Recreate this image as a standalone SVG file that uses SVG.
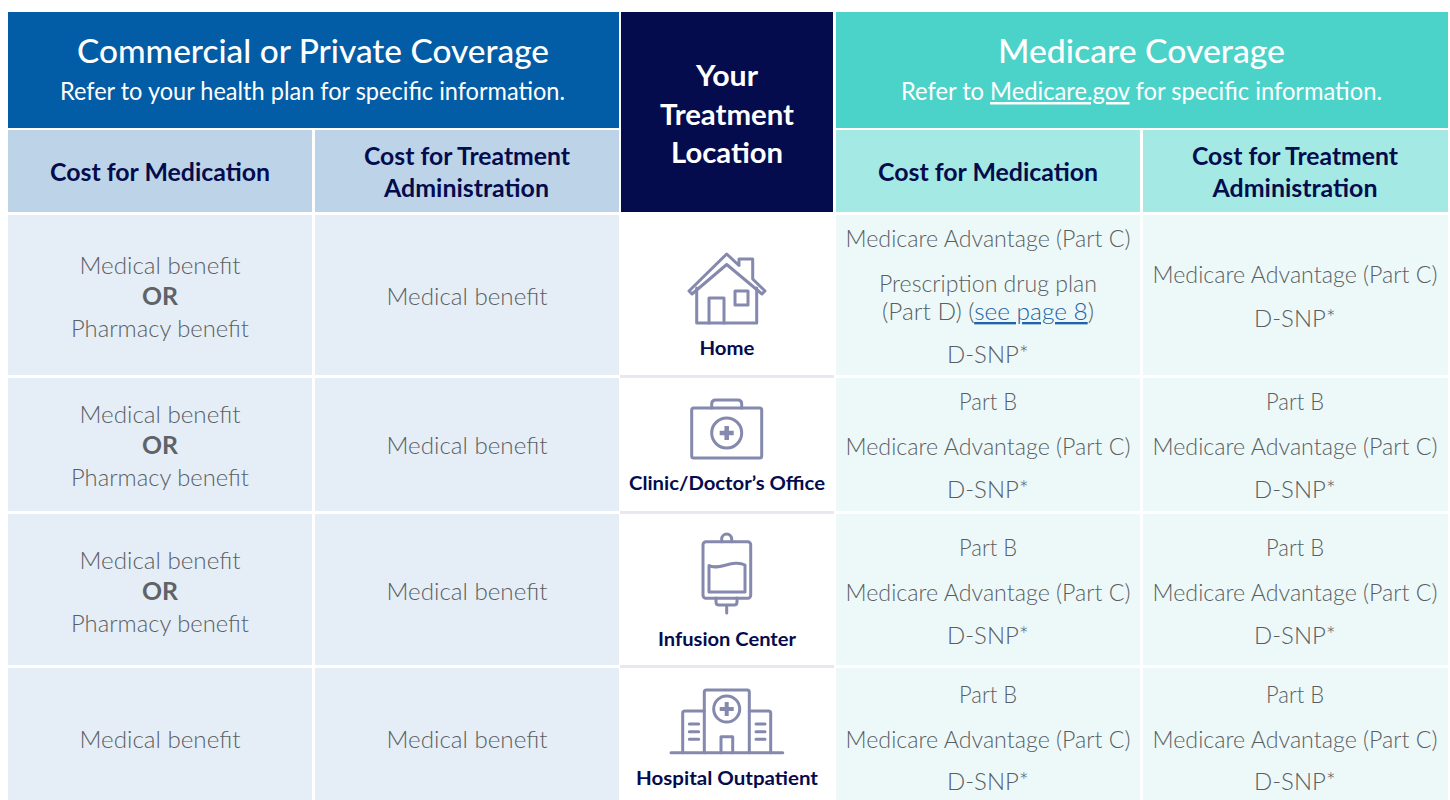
<svg xmlns="http://www.w3.org/2000/svg" width="1450" height="800" viewBox="0 0 1450 800">
<style>
text{font-family:"Lato","Liberation Sans",sans-serif;text-anchor:middle}
.t{font-size:32px;font-weight:500;fill:#fff}
.s{font-size:25px;fill:#fff}
.h{font-size:25px;font-weight:700;fill:#040c4e}
.c{font-size:29px;font-weight:700;fill:#fff}
.b{font-size:23.5px;fill:#5a5e63;font-weight:300}
.o{font-size:24px;font-weight:700;fill:#5f6368}
.l{font-size:19px;font-weight:700;fill:#040c4e}
.a{fill:#1f63a8;text-decoration:underline}
.i{fill:none;stroke:#8489ad;stroke-width:3;stroke-linejoin:round;stroke-linecap:round}
.sep{fill:#e8e8f0}
</style>
<rect width="1450" height="800" fill="#fff"/>
<g id="commercial-header">
<rect x="8" y="12" width="611" height="116" fill="#025ca6"/>
<text class="t" x="313" y="62.5" textLength="472" lengthAdjust="spacingAndGlyphs">Commercial or Private Coverage</text>
<text class="s" x="312.5" y="100" textLength="505" lengthAdjust="spacingAndGlyphs">Refer to your health plan for specific information.</text>
</g>
<g id="location-header">
<rect x="621" y="12" width="212" height="200" fill="#040c4e"/>
<text class="c" x="727" y="86" textLength="62" lengthAdjust="spacingAndGlyphs">Your</text>
<text class="c" x="727" y="125" textLength="134" lengthAdjust="spacingAndGlyphs">Treatment</text>
<text class="c" x="727" y="163" textLength="112" lengthAdjust="spacingAndGlyphs">Location</text>
</g>
<g id="medicare-header">
<rect x="836" y="12" width="612" height="116" fill="#4bd3c9"/>
<text class="t" x="1141.5" y="62.5" textLength="287" lengthAdjust="spacingAndGlyphs">Medicare Coverage</text>
<text class="s" x="1141.5" y="100" textLength="481" lengthAdjust="spacingAndGlyphs">Refer to <tspan text-decoration="underline">Medicare.gov</tspan> for specific information.</text>
</g>
<g id="subheaders">
<rect x="8" y="130" width="304" height="82" fill="#bdd4e8"/>
<rect x="315" y="130" width="304" height="82" fill="#bdd4e8"/>
<rect x="836" y="130" width="304" height="82" fill="#a4e9e3"/>
<rect x="1143" y="130" width="305" height="82" fill="#a4e9e3"/>
<text class="h" x="160" y="181" textLength="220" lengthAdjust="spacingAndGlyphs">Cost for Medication</text>
<text class="h" x="467" y="165" textLength="206" lengthAdjust="spacingAndGlyphs">Cost for Treatment</text>
<text class="h" x="466.5" y="197" textLength="165" lengthAdjust="spacingAndGlyphs">Administration</text>
<text class="h" x="988" y="181" textLength="220" lengthAdjust="spacingAndGlyphs">Cost for Medication</text>
<text class="h" x="1295" y="165" textLength="206" lengthAdjust="spacingAndGlyphs">Cost for Treatment</text>
<text class="h" x="1295" y="197" textLength="165" lengthAdjust="spacingAndGlyphs">Administration</text>
</g>
<g id="row-backgrounds">
<rect x="8" y="215" width="304" height="160" fill="#e5eef6"/><rect x="315" y="215" width="304" height="160" fill="#e5eef6"/>
<rect x="8" y="378" width="304" height="133" fill="#e5eef6"/><rect x="315" y="378" width="304" height="133" fill="#e5eef6"/>
<rect x="8" y="514" width="304" height="151" fill="#e5eef6"/><rect x="315" y="514" width="304" height="151" fill="#e5eef6"/>
<rect x="8" y="668" width="304" height="132" fill="#e5eef6"/><rect x="315" y="668" width="304" height="132" fill="#e5eef6"/>
<rect x="836" y="215" width="304" height="160" fill="#edf9f9"/><rect x="1143" y="215" width="305" height="160" fill="#edf9f9"/>
<rect x="836" y="378" width="304" height="133" fill="#edf9f9"/><rect x="1143" y="378" width="305" height="133" fill="#edf9f9"/>
<rect x="836" y="514" width="304" height="151" fill="#edf9f9"/><rect x="1143" y="514" width="305" height="151" fill="#edf9f9"/>
<rect x="836" y="668" width="304" height="132" fill="#edf9f9"/><rect x="1143" y="668" width="305" height="132" fill="#edf9f9"/>
<rect class="sep" x="620" y="375" width="214" height="3"/><rect class="sep" x="620" y="511" width="214" height="3"/><rect class="sep" x="620" y="665" width="214" height="3"/>
</g>
<g id="commercial-body">
<text class="b" x="160" y="273.5" textLength="161" lengthAdjust="spacingAndGlyphs">Medical benefit</text>
<text class="o" x="160" y="305" textLength="36" lengthAdjust="spacingAndGlyphs">OR</text>
<text class="b" x="160" y="337" textLength="178" lengthAdjust="spacingAndGlyphs">Pharmacy benefit</text>
<text class="b" x="467" y="305" textLength="161" lengthAdjust="spacingAndGlyphs">Medical benefit</text>
<text class="b" x="160" y="422.5" textLength="161" lengthAdjust="spacingAndGlyphs">Medical benefit</text>
<text class="o" x="160" y="454" textLength="36" lengthAdjust="spacingAndGlyphs">OR</text>
<text class="b" x="160" y="486" textLength="178" lengthAdjust="spacingAndGlyphs">Pharmacy benefit</text>
<text class="b" x="467" y="454" textLength="161" lengthAdjust="spacingAndGlyphs">Medical benefit</text>
<text class="b" x="160" y="568.5" textLength="161" lengthAdjust="spacingAndGlyphs">Medical benefit</text>
<text class="o" x="160" y="600" textLength="36" lengthAdjust="spacingAndGlyphs">OR</text>
<text class="b" x="160" y="632" textLength="178" lengthAdjust="spacingAndGlyphs">Pharmacy benefit</text>
<text class="b" x="467" y="600" textLength="161" lengthAdjust="spacingAndGlyphs">Medical benefit</text>
<text class="b" x="160" y="747.5" textLength="161" lengthAdjust="spacingAndGlyphs">Medical benefit</text>
<text class="b" x="467" y="747.5" textLength="161" lengthAdjust="spacingAndGlyphs">Medical benefit</text>
</g>
<g id="medicare-body">
<text class="b" x="988" y="247" textLength="285" lengthAdjust="spacingAndGlyphs">Medicare Advantage (Part C)</text>
<text class="b" x="988" y="292" textLength="218" lengthAdjust="spacingAndGlyphs">Prescription drug plan</text>
<text class="b" x="988" y="320" textLength="212" lengthAdjust="spacingAndGlyphs">(Part D) (<tspan class="a">see page 8</tspan>)</text>
<text class="b" x="988" y="362.5" textLength="82" lengthAdjust="spacingAndGlyphs">D-SNP*</text>
<text class="b" x="1295" y="283" textLength="285" lengthAdjust="spacingAndGlyphs">Medicare Advantage (Part C)</text>
<text class="b" x="1295" y="326.5" textLength="82" lengthAdjust="spacingAndGlyphs">D-SNP*</text>
<text class="b" x="988" y="410" textLength="58" lengthAdjust="spacingAndGlyphs">Part B</text>
<text class="b" x="988" y="454.5" textLength="285" lengthAdjust="spacingAndGlyphs">Medicare Advantage (Part C)</text>
<text class="b" x="988" y="497.5" textLength="82" lengthAdjust="spacingAndGlyphs">D-SNP*</text>
<text class="b" x="1295" y="410" textLength="58" lengthAdjust="spacingAndGlyphs">Part B</text>
<text class="b" x="1295" y="454.5" textLength="285" lengthAdjust="spacingAndGlyphs">Medicare Advantage (Part C)</text>
<text class="b" x="1295" y="497.5" textLength="82" lengthAdjust="spacingAndGlyphs">D-SNP*</text>
<text class="b" x="988" y="556" textLength="58" lengthAdjust="spacingAndGlyphs">Part B</text>
<text class="b" x="988" y="600.5" textLength="285" lengthAdjust="spacingAndGlyphs">Medicare Advantage (Part C)</text>
<text class="b" x="988" y="643.5" textLength="82" lengthAdjust="spacingAndGlyphs">D-SNP*</text>
<text class="b" x="1295" y="556" textLength="58" lengthAdjust="spacingAndGlyphs">Part B</text>
<text class="b" x="1295" y="600.5" textLength="285" lengthAdjust="spacingAndGlyphs">Medicare Advantage (Part C)</text>
<text class="b" x="1295" y="643.5" textLength="82" lengthAdjust="spacingAndGlyphs">D-SNP*</text>
<text class="b" x="988" y="703" textLength="58" lengthAdjust="spacingAndGlyphs">Part B</text>
<text class="b" x="988" y="747.5" textLength="285" lengthAdjust="spacingAndGlyphs">Medicare Advantage (Part C)</text>
<text class="b" x="988" y="790" textLength="82" lengthAdjust="spacingAndGlyphs">D-SNP*</text>
<text class="b" x="1295" y="703" textLength="58" lengthAdjust="spacingAndGlyphs">Part B</text>
<text class="b" x="1295" y="747.5" textLength="285" lengthAdjust="spacingAndGlyphs">Medicare Advantage (Part C)</text>
<text class="b" x="1295" y="790" textLength="82" lengthAdjust="spacingAndGlyphs">D-SNP*</text>
</g>
<g id="home">
<path class="i" d="M696.7 288V323H756.7V288"/>
<path class="i" d="M689 291L726.7 254L739 265.5V259H752.7V279L765 291L762 294L726.7 264.5L692 294Z"/>
<path class="i" d="M709 323V298H724V323"/>
<rect class="i" x="735" y="291" width="13" height="14"/>
<text class="l" x="727" y="355" textLength="55" lengthAdjust="spacingAndGlyphs">Home</text>
</g>
<g id="clinic">
<rect class="i" x="691.7" y="408" width="70" height="50" rx="2"/>
<path class="i" d="M711.7 408V404Q711.7 400 715.7 400H737.7Q741.7 400 741.7 404V408"/>
<circle class="i" cx="726.7" cy="433" r="15"/>
<path class="i" style="stroke-width:4.5;stroke-linecap:butt" d="M719.7 433H733.7M726.7 426V440"/>
<text class="l" x="727" y="490" textLength="196" lengthAdjust="spacingAndGlyphs">Clinic/Doctor’s Office</text>
</g>
<g id="infusion">
<rect class="i" x="703" y="541.7" width="47.7" height="56.5" rx="3"/>
<path class="i" d="M721.7 541.7V539A5 5 0 0 1 731.7 539V541.7"/>
<path class="i" d="M709 565.5C718 571 733 559 745 565V592H709Z"/>
<path class="i" d="M716 598V602Q716 605 719 605H734Q737 605 737 602V598M726.7 605V613"/>
<text class="l" x="727" y="646" textLength="138" lengthAdjust="spacingAndGlyphs">Infusion Center</text>
</g>
<g id="hospital">
<path class="i" d="M671 752.7H782.7"/>
<path class="i" d="M704.3 752.7V692Q704.3 690 706.3 690H747.3Q749.3 690 749.3 692V752.7"/>
<path class="i" d="M704.3 711H685Q682.7 711 682.7 713V752.7M749.3 711H768.5Q770.7 711 770.7 713V752.7"/>
<circle class="i" cx="726.7" cy="709" r="13"/>
<path class="i" style="stroke-width:4;stroke-linecap:butt" d="M719.7 709H733.7M726.7 702V716"/>
<path class="i" d="M721 752.7V736.7H732.7V752.7"/>
<path class="i" d="M689.3 724H698.7M689.3 731.7H698.7M689.3 739.3H698.7M756 724H765M756 731.7H765M756 739.3H765"/>
<text class="l" x="727" y="785" textLength="182" lengthAdjust="spacingAndGlyphs">Hospital Outpatient</text>
</g>
<g id="connectors"></g>
</svg>
